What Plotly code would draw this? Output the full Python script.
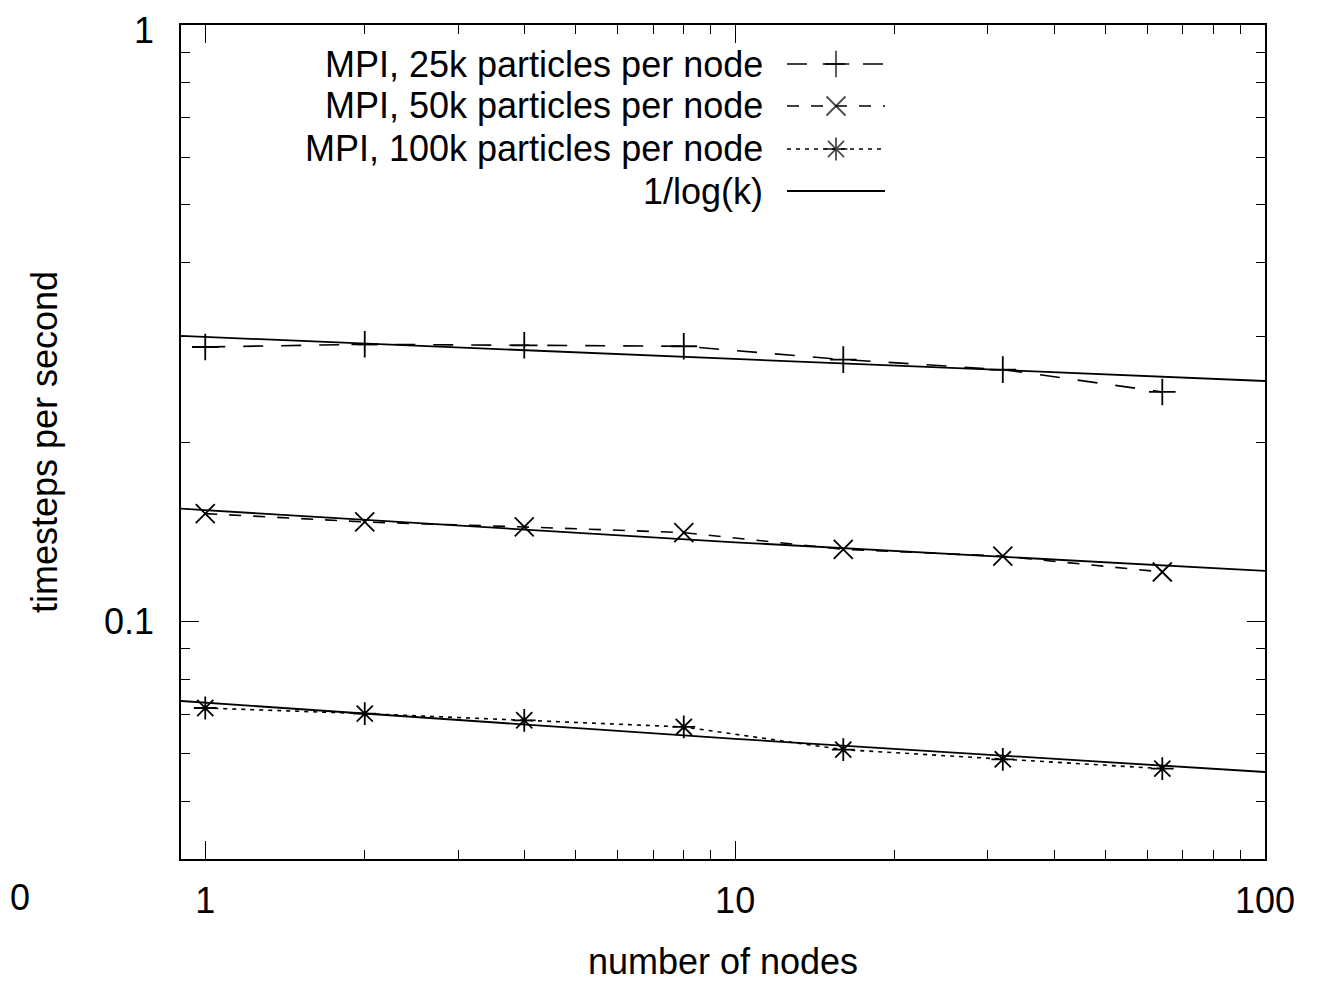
import math
import plotly.graph_objects as go

# ---------------- data ----------------
nodes = [1, 2, 4, 8, 16, 32, 64]
mpi_25k = [0.2886, 0.2916, 0.2905, 0.2894, 0.2749, 0.2645, 0.2426]
mpi_50k = [0.1517, 0.1469, 0.1441, 0.1410, 0.1322, 0.1287, 0.1211]
mpi_100k = [0.07164, 0.07011, 0.06832, 0.06659, 0.06101, 0.05877, 0.05670]

fit_x = [0.9, 10, 100]
fit_25k = [0.3012, 0.2755, 0.2531]
fit_50k = [0.1546, 0.1358, 0.1216]
fit_100k = [0.07361, 0.06359, 0.05596]

series_names = ["MPI, 25k particles per node", "MPI, 50k particles per node",
                "MPI, 100k particles per node", "1/log(k)"]

x_tick_vals = [1, 10, 100]
x_tick_text = ["1", "10", "100"]
x_minor_vals = [2, 3, 4, 5, 6, 7, 8, 9, 20, 30, 40, 50, 60, 70, 80, 90]
y_tick_vals = [0.1, 1]
y_tick_text = ["0.1", "1"]
y_minor_vals = [0.05, 0.06, 0.07, 0.08, 0.09, 0.2, 0.3, 0.4, 0.5, 0.6, 0.7, 0.8, 0.9]

# ---------------- layout geometry (page pixels; body has an 8px margin) ---
OFF = 8
W, H = 1332 - OFF, 982 - OFF
L, R, T, B = 181 - OFF, 1265 - OFF, 25 - OFF, 859 - OFF
FONT = "Liberation Sans, Arial, Helvetica, sans-serif"
FS = 36

styles = [
    dict(dash="20px,18px", symbol="cross-thin-open", size=19),
    dict(dash="12px,12px", symbol="x-thin-open", size=19),
    dict(dash="4px,5px", symbol="asterisk-open", size=19),
]

fig = go.Figure()

# fitted 1/log(k) curves
for fy in (fit_25k, fit_50k, fit_100k):
    fig.add_trace(go.Scatter(x=fit_x, y=fy, mode="lines",
                             line=dict(color="black", width=1.8),
                             showlegend=False, hoverinfo="skip"))

# measured series
for ys, st, nm in zip((mpi_25k, mpi_50k, mpi_100k), styles, series_names):
    fig.add_trace(go.Scatter(
        x=nodes, y=ys, mode="lines+markers", name=nm,
        line=dict(color="black", width=1.6, dash=st["dash"]),
        marker=dict(symbol=st["symbol"], size=st["size"], color="black",
                    line=dict(color="black", width=1.8)),
        showlegend=False))

# ---------------- gnuplot-style key (text right, sample on the right) ----
key_rows_px = [64, 106, 149, 191]
key_text_right_px = 765
key_line_px = (787, 836, 885)


def px2x(px):
    return (px - OFF - L) / (R - L)


def px2y(py):
    return (B - (py - OFF)) / (B - T)


for i, (nm, py) in enumerate(zip(series_names, key_rows_px)):
    fig.add_annotation(text=nm, xref="paper", yref="paper",
                       x=px2x(key_text_right_px), y=px2y(py),
                       xanchor="right", yanchor="middle", showarrow=False,
                       font=dict(family=FONT, size=FS, color="black"))
    xs = [px2x(p) for p in key_line_px]
    yy = [px2y(py)] * 3
    if i < 3:
        st = styles[i]
        fig.add_trace(go.Scatter(
            x=xs, y=yy, xaxis="x2", yaxis="y2", mode="lines+markers",
            line=dict(color="black", width=1.6, dash=st["dash"]),
            marker=dict(symbol=st["symbol"], size=[0, st["size"], 0], color="black",
                        line=dict(color="black", width=1.8)),
            showlegend=False, hoverinfo="skip"))
    else:
        fig.add_trace(go.Scatter(
            x=[xs[0], xs[2]], y=yy[:2], xaxis="x2", yaxis="y2", mode="lines",
            line=dict(color="black", width=1.8),
            showlegend=False, hoverinfo="skip"))

# stray tick label at the lower-left corner of the reference
fig.add_annotation(text="0", xref="paper", yref="paper", x=px2x(OFF), y=px2y(898),
                   xanchor="left", yanchor="middle", showarrow=False,
                   font=dict(family=FONT, size=FS, color="black"))

# the top "1" label sits against the page edge: draw it so it stays inside
y_axis_labels = [t if v != 1 else "" for v, t in zip(y_tick_vals, y_tick_text)]
fig.add_annotation(text=y_tick_text[y_tick_vals.index(1)], xref="paper", yref="paper",
                   x=px2x(156), y=px2y(OFF), xanchor="right", yanchor="top",
                   showarrow=False, font=dict(family=FONT, size=FS, color="black"))

axis_common = dict(
    type="log", showgrid=False, zeroline=False,
    showline=True, linecolor="black", linewidth=1.5, mirror="allticks",
    ticks="inside", ticklen=18, tickwidth=1.3, tickcolor="black",
    tickfont=dict(family=FONT, size=FS, color="black"),
    ticklabeloverflow="allow",
)

fig.update_layout(
    width=W, height=H,
    margin=dict(l=L, r=W - R, t=T, b=H - B, autoexpand=False),
    paper_bgcolor="white", plot_bgcolor="white",
    font=dict(family=FONT, size=FS, color="black"),
    xaxis=dict(**axis_common,
               range=[math.log10(0.9), 2],
               tickmode="array", tickvals=x_tick_vals, ticktext=x_tick_text,
               ticklabelstandoff=9,
               minor=dict(tickmode="array", tickvals=x_minor_vals, ticks="inside",
                          ticklen=9, tickwidth=1.3, tickcolor="black"),
               title=dict(text="number of nodes", standoff=44,
                          font=dict(family=FONT, size=FS, color="black")),
               automargin=False),
    yaxis=dict(**axis_common,
               range=[math.log10(0.04), 0],
               tickmode="array", tickvals=y_tick_vals, ticktext=y_axis_labels,
               ticklabelstandoff=18,
               minor=dict(tickmode="array", tickvals=y_minor_vals, ticks="inside",
                          ticklen=9, tickwidth=1.3, tickcolor="black"),
               title=dict(text="timesteps per second", standoff=35,
                          font=dict(family=FONT, size=FS, color="black")),
               automargin=False),
    xaxis2=dict(overlaying="x", range=[0, 1], visible=False, fixedrange=True),
    yaxis2=dict(overlaying="y", range=[0, 1], visible=False, fixedrange=True),
    showlegend=False,
)

fig.write_html("out.html")
